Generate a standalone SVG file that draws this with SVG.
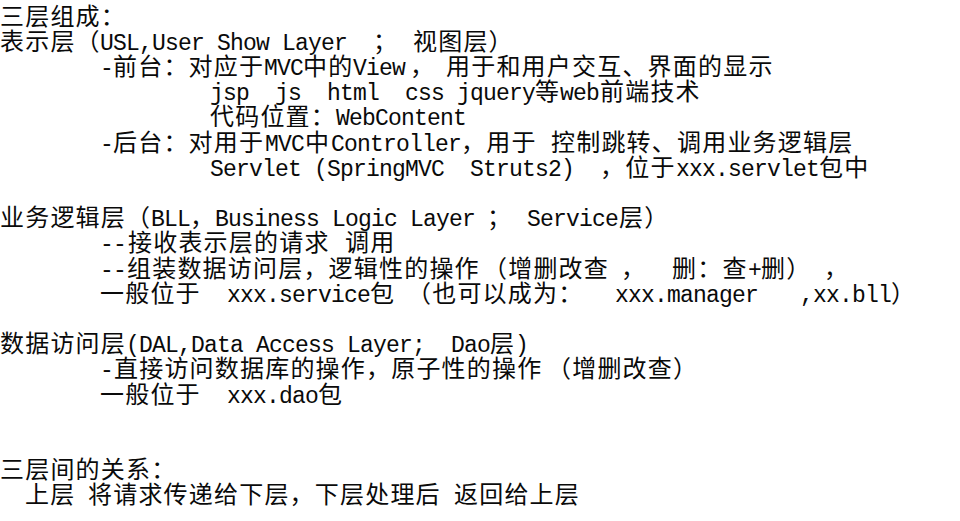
<svg xmlns="http://www.w3.org/2000/svg" width="960" height="521" viewBox="0 0 960 521">
<style>
text { white-space: pre; fill: #0a0a0a; }
.c { font-family: "Noto Sans CJK SC", "Noto Sans", sans-serif; font-size: 24px; letter-spacing: 1.2px; }
.l { font-family: "Liberation Mono", "DejaVu Sans Mono", monospace; font-size: 23px; letter-spacing: -0.8px; }
</style>
<rect width="960" height="521" fill="#ffffff"/>
<g id="title">
<text class="c" x="0" y="24.5">三层组成：</text>
</g>
<g id="usl">
<text y="49.7"><tspan class="c" x="0">表示层（</tspan><tspan class="l" x="100">USL,User Show Layer</tspan><tspan class="c" x="373">；</tspan><tspan class="c" x="413">视图层）</tspan></text>
<text y="74.9"><tspan class="l" x="100">-</tspan><tspan class="c" x="113">前台：对应于</tspan><tspan class="l" x="264">MVC</tspan><tspan class="c" x="303">中的</tspan><tspan class="l" x="353">View</tspan><tspan class="c" x="410">，</tspan><tspan class="c" x="446">用于和用户交互、界面的显示</tspan></text>
<text y="100.1"><tspan class="l" x="210">jsp  js  html  css jquery</tspan><tspan class="c" x="535">等</tspan><tspan class="l" x="560">web</tspan><tspan class="c" x="600">前端技术</tspan></text>
<text y="125.3"><tspan class="c" x="210">代码位置：</tspan><tspan class="l" x="336">WebContent</tspan></text>
<text y="150.5"><tspan class="l" x="100">-</tspan><tspan class="c" x="113">后台：对用于</tspan><tspan class="l" x="265">MVC</tspan><tspan class="c" x="305">中</tspan><tspan class="l" x="331">Controller</tspan><tspan class="c" x="461">，用于</tspan><tspan class="c" x="551">控制跳转、调用业务逻辑层</tspan></text>
<text y="175.7"><tspan class="l" x="210">Servlet (SpringMVC  Struts2)</tspan><tspan class="c" x="600">，位于</tspan><tspan class="l" x="676">xxx.servlet</tspan><tspan class="c" x="819">包中</tspan></text>
</g>
<g id="bll">
<text y="226.1"><tspan class="c" x="0">业务逻辑层（</tspan><tspan class="l" x="151">BLL</tspan><tspan class="c" x="190">，</tspan><tspan class="l" x="215">Business Logic Layer</tspan><tspan class="c" x="487">；</tspan><tspan class="l" x="527">Service</tspan><tspan class="c" x="619">层）</tspan></text>
<text y="251.3"><tspan class="l" x="100">--</tspan><tspan class="c" x="128">接收表示层的请求</tspan><tspan class="c" x="345">调用</tspan></text>
<text y="276.5"><tspan class="l" x="100">--</tspan><tspan class="c" x="127">组装数据访问层，逻辑性的操作</tspan><tspan class="c" x="483">（增删改查</tspan><tspan class="c" x="621">，</tspan><tspan class="c" x="672">删：查</tspan><tspan class="l" x="748">+</tspan><tspan class="c" x="761">删）</tspan><tspan class="c" x="824">，</tspan></text>
<text y="301.7"><tspan class="c" x="100">一般位于</tspan><tspan class="l" x="227">xxx.service</tspan><tspan class="c" x="370">包</tspan><tspan class="c" x="407">（也可以成为：</tspan><tspan class="l" x="615">xxx.manager</tspan><tspan class="l" x="800">,xx.bll</tspan><tspan class="c" x="891">）</tspan></text>
</g>
<g id="dal">
<text y="352.1"><tspan class="c" x="0">数据访问层</tspan><tspan class="l" x="126">(DAL,Data Access Layer;</tspan><tspan class="l" x="451">Dao</tspan><tspan class="c" x="490">层</tspan><tspan class="l" x="515">)</tspan></text>
<text y="377.3"><tspan class="l" x="100">-</tspan><tspan class="c" x="114">直接访问数据库的操作，原子性的操作</tspan><tspan class="c" x="547">（增删改查）</tspan></text>
<text y="402.5"><tspan class="c" x="100">一般位于</tspan><tspan class="l" x="227">xxx.dao</tspan><tspan class="c" x="318">包</tspan></text>
</g>
<g id="relation">
<text class="c" x="0" y="478.1">三层间的关系：</text>
<text y="503.3"><tspan class="c" x="25">上层</tspan><tspan class="c" x="88">将请求传递给下层，下层处理后</tspan><tspan class="c" x="454">返回给上层</tspan></text>
</g>
</svg>
